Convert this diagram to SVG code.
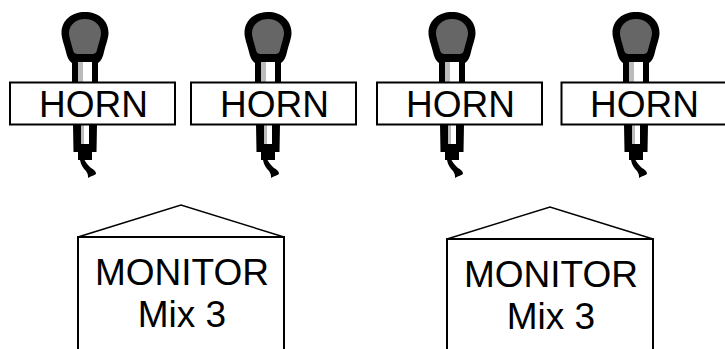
<svg xmlns="http://www.w3.org/2000/svg" width="725" height="349" viewBox="0 0 725 349">
<style>
.label{font-family:"Liberation Sans",Arial,sans-serif;font-size:37px;fill:#000;text-anchor:middle}
.box{fill:#fff;stroke:#000;stroke-width:2}
.mon{fill:none;stroke:#000;stroke-width:2}
.monroof{fill:none;stroke:#000;stroke-width:1.500}
</style>
<defs>
<g id="mic">
<path d="M-23.500,33C-23.500,20 -13,12 0,12C13,12 23.500,20 23.500,33C23.500,38 21,44 19,52C18,57 16,61 13,63L13,82L-13,82L-13,63C-16,61 -18,57 -19,52C-21,44 -23.500,38 -23.500,33Z" fill="#000"/>
<path d="M-16,33C-16,25 -9,19 0,19C9,19 16,25 16,33C16,37 14,42 12,50C11.500,53 10,53.500 8,54L-8,54C-10,53.500 -11.500,53 -12,50C-14,42 -16,37 -16,33Z" fill="#666"/>
<rect x="-7" y="62" width="14" height="20" fill="#fff"/>
<rect x="-7" y="62" width="5" height="20" fill="#bbb"/>
<path d="M-12,124L12,124L11.500,152L7,152L7,160L-0.500,160C1,163 3,165 6,168C9,170 11,171 11,174C8,176 6,176 3,178C3,175 3,174 1,171C-2,168 -4,165 -5,160L-7,160L-7,152L-11.500,152Z" fill="#000"/>
<rect x="-4" y="124" width="8" height="20" fill="#fff"/>
<rect x="-4" y="124" width="3" height="20" fill="#bbb"/>
</g>
</defs>
<g id="horn-1"><use href="#mic" x="85"/><rect class="box" x="10" y="82.500" width="165" height="42"/><text class="label" x="93.500" y="117">HORN</text></g>
<g id="horn-2"><use href="#mic" x="268"/><rect class="box" x="191" y="82.500" width="165" height="42"/><text class="label" x="274.500" y="117">HORN</text></g>
<g id="horn-3"><use href="#mic" x="452"/><rect class="box" x="377" y="82.500" width="165" height="42"/><text class="label" x="460.500" y="117">HORN</text></g>
<g id="horn-4"><use href="#mic" x="636"/><rect class="box" x="561.500" y="82.500" width="170" height="42"/><text class="label" x="644.500" y="117">HORN</text></g>
<g id="monitor-1"><path class="mon" d="M78,349V237H284V349"/><path class="monroof" d="M78,237L181,205L284,237"/><text class="label" x="182" y="285">MONITOR</text><text class="label" x="182" y="327">Mix 3</text></g>
<g id="monitor-2"><path class="mon" d="M447,349V239H653V349"/><path class="monroof" d="M447,239L550,207L653,239"/><text class="label" x="551" y="287">MONITOR</text><text class="label" x="551" y="329">Mix 3</text></g>
</svg>
